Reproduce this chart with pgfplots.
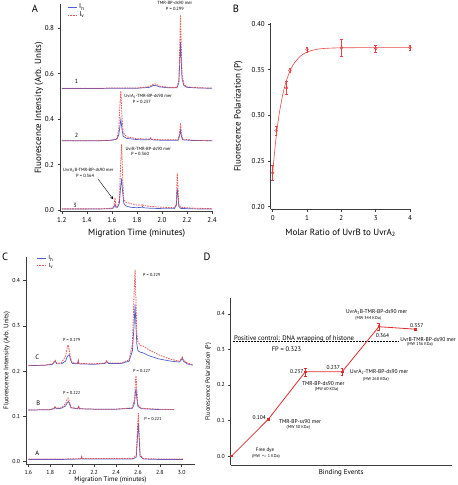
\documentclass[border=0pt]{standalone}
\usepackage{pgfplots}
\pgfplotsset{compat=1.18}
\usepackage{fontspec}
\setmainfont{PT Sans}
\definecolor{ihblue}{RGB}{80,95,205}
\definecolor{ivred}{RGB}{232,70,70}
\definecolor{dred}{RGB}{222,45,45}
\definecolor{axgray}{RGB}{60,60,60}
\newcommand{\fs}[1]{\fontsize{#1}{#1}\selectfont}
\pgfplotsset{
  igor/.style={
    scale only axis, clip=false,
    axis x line*=bottom, axis y line*=left,
    axis line style={-, axgray, line width=0.6pt},
    tick align=outside, major tick length=2.5pt,
    tick style={axgray, line width=0.5pt},
    every tick label/.append style={text=black},
  },
  ih/.style={ihblue, line width=0.7pt},
  iv/.style={ivred, line width=0.8pt, dash pattern=on 1.6pt off 1pt, opacity=0.9},
  legend image code/.code={\draw[#1] (0cm,0cm) -- (0.32cm,0cm);},
}
\begin{document}
\begin{tikzpicture}
\path[use as bounding box] (0,0) rectangle (458pt,485pt);

% ---------------- Panel A ----------------
\begin{axis}[igor,
  at={(60pt,273.3pt)}, anchor=south west,
  width=153.3pt, height=207.7pt,
  xmin=1.186, xmax=2.41, ymin=-0.0075, ymax=0.907,
  xtick={1.2,1.4,1.6,1.8,2.0,2.2,2.4},
  xticklabels={1.2,1.4,1.6,1.8,2.0,2.2,2.4},
  ytick={0,0.2,0.4,0.6,0.8},
  yticklabels={0.0,0.2,0.4,0.6,0.8},
  tick label style={font=\fs{7}},
  xlabel={Migration Time (minutes)},
  ylabel={Fluorescence Intensity (Arb. Units)},
  label style={font=\fs{9}},
  xlabel style={at={(axis description cs:0.5,-0.1026)}, anchor=center},
  ylabel style={at={(axis description cs:-0.137,0.5)}, anchor=center},
  legend style={at={(0.04,1.015)}, anchor=north west, draw=none, fill=none,
    font=\fs{7}, row sep=-2.5pt, inner sep=1pt},
]
% trace 3
\addplot[ih] coordinates {(1.20,0.004)(1.40,0.004)(1.55,0.005)(1.60,0.006)(1.615,0.010)(1.625,0.025)(1.632,0.012)(1.645,0.012)(1.660,0.030)(1.670,0.10)(1.678,0.139)(1.686,0.08)(1.695,0.030)(1.71,0.018)(1.75,0.012)(1.80,0.010)(1.84,0.012)(1.845,0.016)(1.85,0.010)(1.90,0.008)(2.00,0.006)(2.10,0.006)(2.115,0.02)(2.122,0.095)(2.128,0.06)(2.135,0.015)(2.15,0.007)(2.25,0.005)(2.40,0.004)};
\addlegendentry{I\textsubscript{h}}
\addplot[iv] coordinates {(1.20,0.005)(1.40,0.005)(1.55,0.006)(1.60,0.008)(1.615,0.015)(1.625,0.054)(1.632,0.018)(1.645,0.015)(1.660,0.045)(1.670,0.20)(1.678,0.289)(1.686,0.15)(1.695,0.045)(1.71,0.035)(1.75,0.028)(1.80,0.022)(1.84,0.022)(1.845,0.026)(1.85,0.020)(1.90,0.016)(2.00,0.012)(2.10,0.010)(2.115,0.03)(2.122,0.165)(2.128,0.10)(2.135,0.025)(2.15,0.012)(2.25,0.008)(2.40,0.006)};
\addlegendentry{I\textsubscript{v}}
% trace 2
\addplot[ih] coordinates {(1.20,0.305)(1.50,0.305)(1.60,0.307)(1.64,0.312)(1.655,0.33)(1.665,0.37)(1.672,0.40)(1.68,0.36)(1.69,0.325)(1.72,0.315)(1.80,0.31)(1.90,0.309)(1.91,0.315)(1.92,0.309)(2.00,0.307)(2.13,0.307)(2.142,0.33)(2.148,0.352)(2.155,0.325)(2.165,0.309)(2.25,0.306)(2.40,0.305)};
\addplot[iv] coordinates {(1.20,0.305)(1.50,0.305)(1.60,0.308)(1.64,0.315)(1.655,0.35)(1.665,0.47)(1.672,0.524)(1.68,0.42)(1.69,0.34)(1.72,0.322)(1.80,0.314)(1.90,0.312)(1.91,0.318)(1.92,0.311)(2.00,0.309)(2.13,0.309)(2.142,0.345)(2.148,0.382)(2.155,0.34)(2.165,0.312)(2.25,0.307)(2.40,0.305)};
% trace 1
\addplot[ih] coordinates {(1.20,0.535)(1.50,0.535)(1.60,0.536)(1.80,0.536)(1.90,0.540)(1.93,0.548)(1.95,0.548)(1.98,0.542)(2.05,0.538)(2.12,0.538)(2.135,0.56)(2.142,0.65)(2.148,0.74)(2.154,0.66)(2.16,0.58)(2.175,0.548)(2.20,0.540)(2.30,0.537)(2.40,0.536)};
\addplot[iv] coordinates {(1.20,0.536)(1.50,0.536)(1.60,0.537)(1.80,0.537)(1.90,0.543)(1.93,0.554)(1.95,0.555)(1.98,0.546)(2.05,0.540)(2.12,0.540)(2.135,0.57)(2.142,0.72)(2.148,0.859)(2.154,0.73)(2.16,0.60)(2.175,0.552)(2.20,0.542)(2.30,0.538)(2.40,0.537)};
% annotations
\node[font=\fs{4.5}] at (axis cs:2.103,0.912) {TMR-BP-ds90 mer};
\node[font=\fs{4.5}] at (axis cs:2.103,0.886) {P = 0.299};
\node[font=\fs{4.5}] at (axis cs:1.89,0.502) {UvrA\textsubscript{2}-TMR-BP-ds90 mer};
\node[font=\fs{4.5}] at (axis cs:1.84,0.477) {P = 0.237};
\node[font=\fs{4.5}] at (axis cs:1.89,0.267) {UvrB-TMR-BP-ds90 mer};
\node[font=\fs{4.5}] at (axis cs:1.825,0.249) {P = 0.360};
\node[font=\fs{4.5}] at (axis cs:1.412,0.176) {UvrA\textsubscript{2}B-TMR-BP-ds90 mer};
\node[font=\fs{4.5}] at (axis cs:1.386,0.150) {P = 0.364};
\draw[-stealth, black, line width=0.4pt] (axis cs:1.492,0.135) -- (axis cs:1.611,0.047);
\node[font=\fs{6}] at (axis cs:1.317,0.565) {1};
\node[font=\fs{6}] at (axis cs:1.317,0.330) {2};
\node[font=\fs{6}] at (axis cs:1.306,0.022) {3};
\end{axis}

% ---------------- Panel B ----------------
\begin{axis}[igor,
  at={(270.7pt,275.7pt)}, anchor=south west,
  width=139.7pt, height=185.9pt,
  xmin=-0.058, xmax=4.01, ymin=0.1972, ymax=0.4005,
  xtick={0,1,2,3,4}, xticklabels={0,1,2,3,4},
  ytick={0.20,0.25,0.30,0.35,0.40},
  yticklabels={0.20,0.25,0.30,0.35,0.40},
  tick label style={font=\fs{7}},
  xlabel={Molar Ratio of UvrB to UvrA\textsubscript{2}},
  ylabel={Fluorescence Polarization (P)},
  label style={font=\fs{9}},
  xlabel style={at={(axis description cs:0.5,-0.1275)}, anchor=center},
  ylabel style={at={(axis description cs:-0.232,0.5)}, anchor=center},
]
\addplot[ivred, line width=0.6pt, smooth] coordinates {(0,0.237)(0.05,0.258)(0.1,0.276)(0.15,0.291)(0.2,0.304)(0.3,0.324)(0.4,0.338)(0.5,0.348)(0.6,0.3555)(0.8,0.3645)(1.0,0.3691)(1.25,0.3719)(1.5,0.3731)(2,0.3738)(3,0.374)(4,0.374)};
\addplot[ivred, only marks, mark=o, mark size=1.4pt, line width=0.5pt,
  error bars/.cd, y dir=both, y explicit,
  error bar style={line width=0.5pt, ivred}, error mark options={rotate=90, mark size=1.3pt, ivred}]
  coordinates {
  (0,0.237) +- (0,0.008)
  (0.1,0.283) +- (0,0.005)
  (0.4,0.330) +- (0,0.007)
  (0.5,0.349) +- (0,0.002)
  (1,0.372) +- (0,0.003)
  (2,0.374) +- (0,0.009)
  (3,0.373) +- (0,0.004)
  (4,0.374) +- (0,0.003)
  };
\end{axis}

% ---------------- Panel C ----------------
\begin{axis}[igor,
  at={(26pt,21pt)}, anchor=south west,
  width=168.9pt, height=207.3pt,
  xmin=1.579, xmax=3.12, ymin=-0.005, ymax=0.4525,
  xtick={1.6,1.8,2.0,2.2,2.4,2.6,2.8,3.0},
  xticklabels={1.6,1.8,2.0,2.2,2.4,2.6,2.8,3.0},
  ytick={0,0.1,0.2,0.3,0.4},
  yticklabels={0.0,0.1,0.2,0.3,0.4},
  tick label style={font=\fs{5.8}},
  xlabel={Migration Time (minutes)},
  ylabel={Fluorescence Intensity (Arb. Units)},
  label style={font=\fs{6.7}},
  xlabel style={at={(axis description cs:0.5,-0.077)}, anchor=center},
  ylabel style={at={(axis description cs:-0.114,0.5)}, anchor=center},
  legend style={at={(0.055,1.02)}, anchor=north west, draw=none, fill=none,
    font=\fs{6}, row sep=-2.5pt, inner sep=1pt},
]
% C
\addplot[ih] coordinates {(1.60,0.212)(1.75,0.213)(1.82,0.215)(1.845,0.222)(1.86,0.216)(1.90,0.216)(1.94,0.222)(1.955,0.232)(1.965,0.235)(1.975,0.236)(1.985,0.225)(2.00,0.217)(2.05,0.216)(2.056,0.222)(2.062,0.216)(2.20,0.215)(2.30,0.217)(2.315,0.221)(2.33,0.217)(2.45,0.217)(2.52,0.222)(2.55,0.245)(2.565,0.30)(2.574,0.347)(2.582,0.30)(2.59,0.26)(2.60,0.245)(2.62,0.242)(2.65,0.240)(2.70,0.234)(2.79,0.227)(2.90,0.222)(2.98,0.220)(3.00,0.226)(3.005,0.229)(3.015,0.222)(3.05,0.216)(3.10,0.213)};
\addlegendentry{I\textsubscript{h}}
\addplot[iv] coordinates {(1.60,0.213)(1.75,0.213)(1.82,0.216)(1.845,0.224)(1.86,0.217)(1.90,0.218)(1.94,0.232)(1.955,0.252)(1.963,0.258)(1.975,0.245)(1.985,0.23)(2.00,0.219)(2.05,0.217)(2.056,0.224)(2.062,0.217)(2.20,0.216)(2.30,0.218)(2.315,0.223)(2.33,0.218)(2.45,0.218)(2.52,0.225)(2.55,0.26)(2.565,0.37)(2.574,0.424)(2.582,0.36)(2.59,0.285)(2.60,0.265)(2.62,0.257)(2.65,0.255)(2.70,0.247)(2.79,0.236)(2.90,0.226)(2.98,0.222)(3.00,0.229)(3.005,0.231)(3.015,0.224)(3.05,0.218)(3.10,0.214)};
\addlegendentry{I\textsubscript{v}}
% B
\addplot[ih] coordinates {(1.60,0.114)(1.80,0.115)(1.835,0.117)(1.845,0.121)(1.855,0.117)(1.90,0.118)(1.94,0.123)(1.955,0.130)(1.965,0.133)(1.975,0.128)(1.99,0.119)(2.05,0.117)(2.06,0.122)(2.065,0.117)(2.20,0.116)(2.40,0.116)(2.55,0.118)(2.57,0.13)(2.578,0.155)(2.583,0.160)(2.59,0.14)(2.60,0.122)(2.63,0.117)(2.80,0.115)(2.93,0.115)};
\addplot[iv] coordinates {(1.60,0.114)(1.80,0.115)(1.835,0.118)(1.845,0.122)(1.855,0.118)(1.90,0.119)(1.94,0.128)(1.955,0.138)(1.963,0.141)(1.975,0.133)(1.99,0.120)(2.05,0.117)(2.06,0.123)(2.065,0.117)(2.20,0.116)(2.40,0.116)(2.55,0.119)(2.57,0.14)(2.578,0.18)(2.583,0.190)(2.59,0.16)(2.60,0.126)(2.63,0.118)(2.80,0.116)(2.93,0.115)};
% A
\addplot[ih] coordinates {(1.60,0.005)(1.90,0.005)(2.08,0.006)(2.087,0.010)(2.095,0.006)(2.30,0.006)(2.55,0.006)(2.585,0.010)(2.595,0.05)(2.604,0.085)(2.612,0.05)(2.62,0.012)(2.65,0.006)(2.80,0.005)(3.01,0.005)};
\addplot[iv] coordinates {(1.60,0.006)(1.90,0.006)(2.08,0.007)(2.087,0.012)(2.095,0.007)(2.30,0.007)(2.55,0.007)(2.585,0.014)(2.595,0.07)(2.604,0.107)(2.612,0.06)(2.62,0.015)(2.65,0.007)(2.80,0.006)(3.01,0.006)};
\node[font=\fs{4.3}] at (axis cs:2.726,0.412) {P = 0.229};
\node[font=\fs{4.3}] at (axis cs:1.996,0.269) {P = 0.279};
\node[font=\fs{4.3}] at (axis cs:2.635,0.200) {P = 0.227};
\node[font=\fs{4.3}] at (axis cs:1.996,0.151) {P = 0.222};
\node[font=\fs{4.3}] at (axis cs:2.738,0.094) {P = 0.221};
\node[font=\fs{6.5}] at (axis cs:1.682,0.230) {C};
\node[font=\fs{6.5}] at (axis cs:1.691,0.130) {B};
\node[font=\fs{6.5}] at (axis cs:1.682,0.0185) {A};
\end{axis}

% ---------------- Panel D ----------------
\begin{axis}[igor,
  at={(230.7pt,20pt)}, anchor=south west,
  width=221pt, height=166.7pt,
  xmin=-0.027, xmax=5.98, ymin=-0.0254, ymax=0.444,
  xtick=\empty,
  ytick={0,0.1,0.2,0.3,0.4},
  yticklabels={0.0,0.1,0.2,0.3,0.4},
  tick label style={font=\fs{5.8}},
  xlabel={Binding Events},
  ylabel={Fluorescence Polarization (P)},
  xlabel style={font=\fs{7}, at={(axis description cs:0.5,-0.046)}, anchor=center},
  ylabel style={font=\fs{6.3}, at={(axis description cs:-0.101,0.5)}, anchor=center},
]
\addplot[black, densely dotted, line width=0.5pt] coordinates {(0.03,0.323)(4.53,0.323)};
\addplot[dred, line width=0.8pt, mark=square*, mark size=0.9pt,
  error bars/.cd, y dir=both, y explicit,
  error bar style={line width=0.5pt, dred}, error mark options={rotate=90, mark size=1.4pt, dred}]
  coordinates {
  (0,0.0) +- (0,0.002)
  (1,0.104) +- (0,0.003)
  (2,0.237) +- (0,0.011)
  (3,0.237) +- (0,0.009)
  (4,0.364) +- (0,0.009)
  (5,0.357) +- (0,0.003)
  };
\node[font=\fs{5.5}] at (axis cs:0.75,0.109) {0.104};
\node[font=\fs{5.5}] at (axis cs:1.856,0.0966) {TMR-BP-ss90 mer};
\node[font=\fs{4.2}] at (axis cs:1.81,0.081) {(MW 30 KDa)};
\node[font=\fs{5}] at (axis cs:0.905,0.016) {Free dye};
\node[font=\fs{4.2}] at (axis cs:0.932,-0.002) {(MW $\sim$ 1 KDa)};
\node[font=\fs{5.5}] at (axis cs:1.766,0.239) {0.237};
\node[font=\fs{5.5}] at (axis cs:2.49,0.203) {TMR-BP-ds90 mer};
\node[font=\fs{4.2}] at (axis cs:2.58,0.188) {(MW 60 KDa)};
\node[font=\fs{5.5}] at (axis cs:2.76,0.25) {0.237};
\node[font=\fs{5.5}] at (axis cs:4.01,0.236) {UvrA\textsubscript{2}-TMR-BP-ds90 mer};
\node[font=\fs{4.2}] at (axis cs:3.92,0.216) {(MW 268 KDa)};
\node[font=\fs{5.5}] at (axis cs:3.94,0.406) {UvrA\textsubscript{2}B-TMR-BP-ds90 mer};
\node[font=\fs{4.2}] at (axis cs:3.71,0.386) {(MW 344 KDa)};
\node[font=\fs{5.5}] at (axis cs:4.10,0.339) {0.364};
\node[font=\fs{5.5}] at (axis cs:5.03,0.366) {0.357};
\node[font=\fs{5.5}] at (axis cs:5.34,0.329) {UvrB-TMR-BP-ds90 mer};
\node[font=\fs{4.2}] at (axis cs:5.12,0.313) {(MW 136 KDa)};
\node[font=\fs{6.7}, anchor=west, inner sep=0pt] at (axis cs:0.06,0.330) {Positive control: DNA wrapping of histone};
\node[font=\fs{6.5}] at (axis cs:1.49,0.301) {FP = 0.323};
\end{axis}

% panel letters
\node[font=\fs{10.5}, anchor=center] at (35pt,476pt) {A};
\node[font=\fs{10.5}, anchor=center] at (236pt,476pt) {B};
\node[font=\fs{10.5}, anchor=center] at (5pt,228pt) {C};
\node[font=\fs{10.5}, anchor=center] at (207pt,228pt) {D};
\end{tikzpicture}
\end{document}
